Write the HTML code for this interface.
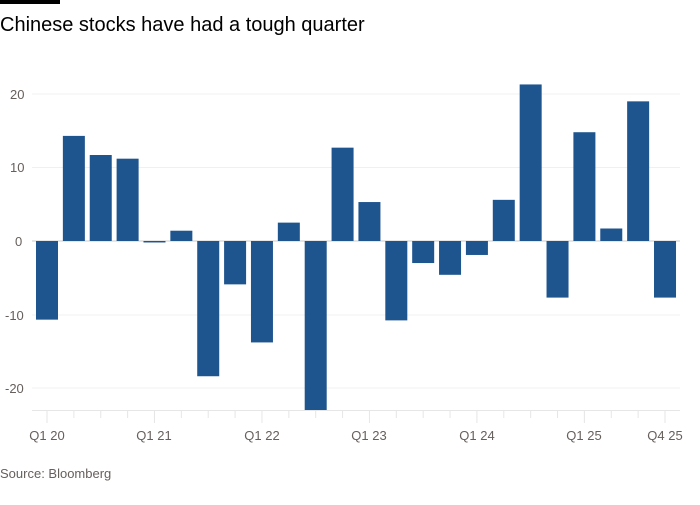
<!DOCTYPE html><html><head><style>body{margin:0;background:#fff;font-family:"Liberation Sans",sans-serif}</style></head><body>
<svg width="700" height="500" xmlns="http://www.w3.org/2000/svg" font-family="Liberation Sans, sans-serif">
<rect x="0" y="0" width="60" height="4" fill="#000"/>
<text x="0" y="31" font-size="20" fill="#000">Chinese stocks have had a tough quarter</text>
<g stroke="#f0f0f0" stroke-width="1">
<line x1="32" x2="680" y1="94" y2="94"/><line x1="32" x2="680" y1="167.5" y2="167.5"/><line x1="32" x2="680" y1="315" y2="315"/><line x1="32" x2="680" y1="388" y2="388"/>
</g>
<line x1="32" x2="680" y1="241" y2="241" stroke="#ccc"/>
<g font-size="13" fill="#66605c"><text x="10" y="99">20</text><text x="10" y="172">10</text><text x="15" y="246">0</text><text x="5" y="320">-10</text><text x="5" y="393">-20</text></g>
<g id="bars" fill="#1f558e"></g>
<line x1="32" x2="680" y1="410.5" y2="410.5" stroke="#e6e6e6"/>
<g id="ticks" stroke="#e6e6e6"></g>
<g font-size="13" fill="#66605c" text-anchor="middle"><text x="47" y="440">Q1 20</text><text x="154" y="440">Q1 21</text><text x="262" y="440">Q1 22</text><text x="369" y="440">Q1 23</text><text x="477" y="440">Q1 24</text><text x="584" y="440">Q1 25</text><text x="665" y="440">Q4 25</text></g>
<text x="0" y="478" font-size="13" fill="#66605c">Source: Bloomberg</text>
<script>
var v=[-10.7,14.3,11.7,11.2,-0.2,1.4,-18.4,-5.9,-13.8,2.5,-23,12.7,5.3,-10.8,-3,-4.6,-1.9,5.6,21.3,-7.7,14.8,1.7,19,-7.7];
var b=document.getElementById('bars'),t=document.getElementById('ticks'),ns='http://www.w3.org/2000/svg';
v.forEach(function(d,i){var c=47+i*26.87,h=Math.abs(d)*7.35,y=d>0?241-h:241;
var r=document.createElementNS(ns,'rect');r.setAttribute('x',c-11);r.setAttribute('width',22);r.setAttribute('y',y);r.setAttribute('height',Math.max(h,1));b.appendChild(r);
var l=document.createElementNS(ns,'line');l.setAttribute('x1',c);l.setAttribute('x2',c);l.setAttribute('y1',411);l.setAttribute('y2',i%4==0||i==23?423:418);t.appendChild(l);});
</script>
</svg></body></html>
